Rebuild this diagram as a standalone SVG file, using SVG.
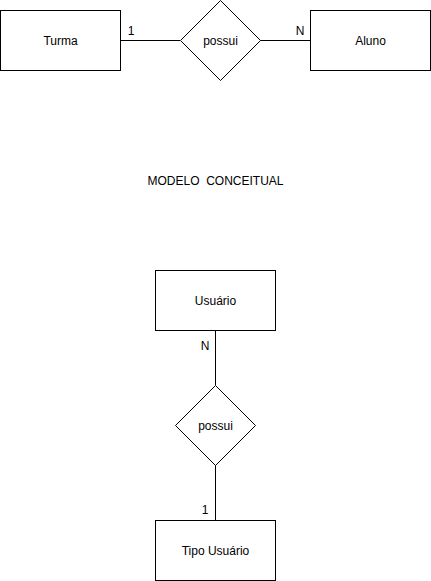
<svg xmlns="http://www.w3.org/2000/svg" width="431" height="581" viewBox="0 0 431 581">
<style>
.s{fill:#fff;stroke:#000;stroke-width:1}
.l{fill:none;stroke:#000;stroke-width:1}
text{font-family:"Liberation Sans",Arial,sans-serif;font-size:12px;fill:#000}
.c{text-anchor:middle;dominant-baseline:central}
</style>
<rect width="431" height="581" fill="#fff"/>
<g id="connectors">
<path class="l" d="M120.5 40.5H180"/>
<path class="l" d="M260 40.5H310.5"/>
<path class="l" d="M215.5 330.5V385"/>
<path class="l" d="M215.5 465V520.5"/>
<text x="131" y="31" class="c">1</text>
<text x="300" y="31" class="c">N</text>
<text x="205" y="346" class="c">N</text>
<text x="205" y="510" class="c">1</text>
</g>
<g id="turma"><rect class="s" x="0.5" y="10.5" width="120" height="60"/><text x="60.5" y="40.5" class="c">Turma</text></g>
<g id="possui1"><path class="s" d="M220.5 0.5L260.5 40.5L220.5 80.5L180.5 40.5Z"/><text x="220.5" y="40.5" class="c">possui</text></g>
<g id="aluno"><rect class="s" x="310.5" y="10.5" width="120" height="60"/><text x="370.5" y="40.5" class="c">Aluno</text></g>
<g id="titulo"><text x="215.5" y="181" class="c" xml:space="preserve">MODELO  CONCEITUAL</text></g>
<g id="usuario"><rect class="s" x="155.5" y="270.5" width="120" height="60"/><text x="215.5" y="300.5" class="c">Usuário</text></g>
<g id="possui2"><path class="s" d="M215.5 385.5L255.5 425.5L215.5 465.5L175.5 425.5Z"/><text x="215.5" y="425.5" class="c">possui</text></g>
<g id="tipousuario"><rect class="s" x="155.5" y="520.5" width="120" height="60"/><text x="215.5" y="550.5" class="c">Tipo Usuário</text></g>
</svg>
